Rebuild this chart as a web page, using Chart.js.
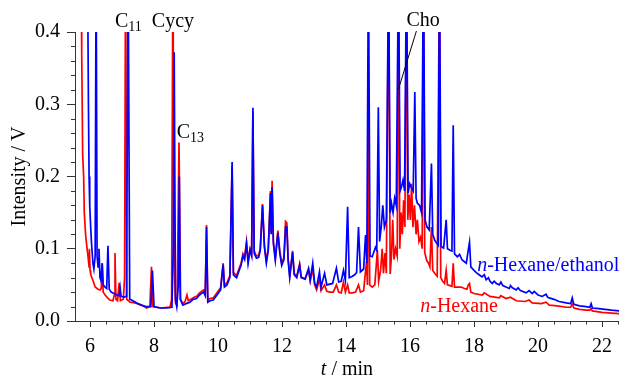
<!DOCTYPE html>
<html>
<head>
<meta charset="utf-8">
<script src="https://cdn.jsdelivr.net/npm/chart.js@4.4.1/dist/chart.umd.min.js"></script>
<style>
  html, body { margin: 0; padding: 0; background: #fff; }
  canvas { display: block; }
</style>
</head>
<body>
<canvas id="chromChart" width="620" height="378"></canvas>
<script>
// retention time (min), signal (V)
const hexaneEthanol = [
  [5.92, 0.5], [5.95, 0.3], [5.97, 0.2], [5.99, 0.16], [6.02, 0.13], [6.05, 0.105], [6.09, 0.08], [6.12, 0.072],
  [6.16, 0.09], [6.19, 0.5], [6.22, 0.09], [6.25, 0.075], [6.28, 0.1], [6.31, 0.06], [6.34, 0.056], [6.38, 0.08],
  [6.41, 0.05], [6.47, 0.047], [6.52, 0.045], [6.56, 0.104], [6.6, 0.044], [6.66, 0.04], [6.75, 0.038], [6.85, 0.036],
  [6.91, 0.035], [6.94, 0.046], [6.97, 0.034], [7.06, 0.033], [7.14, 0.034], [7.19, 0.5], [7.24, 0.03], [7.3, 0.029],
  [7.46, 0.025], [7.6, 0.022], [7.75, 0.02], [7.9, 0.02], [7.95, 0.07], [8.0, 0.02], [8.2, 0.018], [8.4, 0.018],
  [8.56, 0.019], [8.6, 0.1], [8.63, 0.372], [8.67, 0.03], [8.71, 0.02], [8.76, 0.05], [8.79, 0.2], [8.82, 0.03],
  [8.9, 0.022], [9.0, 0.024], [9.12, 0.026], [9.22, 0.03], [9.33, 0.031], [9.4, 0.035], [9.48, 0.038], [9.55, 0.04],
  [9.6, 0.035], [9.64, 0.13], [9.68, 0.026], [9.75, 0.028], [9.85, 0.029], [9.95, 0.035], [10.0, 0.038], [10.08, 0.043],
  [10.16, 0.078], [10.2, 0.047], [10.28, 0.05], [10.37, 0.06], [10.44, 0.22], [10.48, 0.064], [10.58, 0.06], [10.66, 0.07],
  [10.72, 0.077], [10.78, 0.09], [10.83, 0.085], [10.89, 0.107], [10.94, 0.08], [11.0, 0.098], [11.05, 0.09], [11.09, 0.295],
  [11.13, 0.094], [11.2, 0.087], [11.27, 0.088], [11.32, 0.098], [11.39, 0.16], [11.45, 0.102], [11.51, 0.08], [11.57, 0.098],
  [11.64, 0.177], [11.66, 0.12], [11.69, 0.185], [11.73, 0.107], [11.79, 0.084], [11.87, 0.122], [11.93, 0.094], [11.99, 0.077],
  [12.06, 0.085], [12.11, 0.13], [12.15, 0.13], [12.19, 0.084], [12.24, 0.06], [12.33, 0.095], [12.38, 0.064], [12.46, 0.06],
  [12.55, 0.077], [12.6, 0.06], [12.72, 0.058], [12.83, 0.073], [12.88, 0.057], [12.96, 0.08], [13.02, 0.052], [13.08, 0.047],
  [13.17, 0.068], [13.22, 0.047], [13.33, 0.066], [13.4, 0.05], [13.58, 0.052], [13.7, 0.073], [13.77, 0.054], [13.85, 0.055],
  [13.92, 0.07], [13.98, 0.056], [14.05, 0.158], [14.1, 0.06], [14.2, 0.062], [14.27, 0.064], [14.33, 0.067], [14.39, 0.13],
  [14.45, 0.068], [14.55, 0.072], [14.61, 0.119], [14.65, 0.08], [14.7, 0.5], [14.75, 0.09], [14.82, 0.089], [14.92, 0.102],
  [14.96, 0.098], [15.01, 0.296], [15.05, 0.11], [15.1, 0.13], [15.15, 0.16], [15.2, 0.13], [15.26, 0.14], [15.33, 0.5],
  [15.38, 0.15], [15.42, 0.163], [15.47, 0.15], [15.52, 0.17], [15.57, 0.16], [15.64, 0.5], [15.69, 0.18], [15.73, 0.185],
  [15.78, 0.195], [15.83, 0.18], [15.89, 0.5], [15.94, 0.177], [15.99, 0.19], [16.04, 0.185], [16.1, 0.18], [16.15, 0.317],
  [16.19, 0.17], [16.23, 0.163], [16.3, 0.16], [16.36, 0.15], [16.42, 0.5], [16.47, 0.14], [16.53, 0.13], [16.6, 0.126],
  [16.67, 0.218], [16.71, 0.12], [16.77, 0.112], [16.83, 0.108], [16.88, 0.105], [16.92, 0.5], [16.97, 0.103], [17.05, 0.101],
  [17.13, 0.14], [17.17, 0.1], [17.25, 0.098], [17.31, 0.097], [17.35, 0.271], [17.39, 0.093], [17.48, 0.089], [17.55, 0.092],
  [17.62, 0.085], [17.7, 0.082], [17.76, 0.08], [17.82, 0.098], [17.86, 0.109], [17.9, 0.075], [18.0, 0.07], [18.1, 0.066],
  [18.16, 0.064], [18.25, 0.061], [18.32, 0.064], [18.38, 0.057], [18.45, 0.06], [18.5, 0.055], [18.57, 0.052], [18.63, 0.055],
  [18.7, 0.052], [18.79, 0.05], [18.84, 0.054], [18.9, 0.049], [19.0, 0.047], [19.1, 0.045], [19.14, 0.049], [19.2, 0.046],
  [19.32, 0.043], [19.38, 0.046], [19.45, 0.042], [19.63, 0.039], [19.72, 0.042], [19.82, 0.038], [19.88, 0.041], [20.0, 0.036],
  [20.13, 0.034], [20.25, 0.037], [20.3, 0.033], [20.35, 0.032], [20.5, 0.03], [20.66, 0.027], [20.88, 0.025], [21.02, 0.024],
  [21.07, 0.032], [21.12, 0.023], [21.3, 0.021], [21.5, 0.02], [21.62, 0.019], [21.66, 0.024], [21.7, 0.018], [21.9, 0.017],
  [22.1, 0.016], [22.3, 0.015], [22.55, 0.014]
];

const hexane = [
  [5.68, 0.5], [5.72, 0.5], [5.74, 0.37], [5.77, 0.23], [5.8, 0.2], [5.82, 0.15], [5.86, 0.12], [5.9, 0.103],
  [5.94, 0.088], [5.97, 0.075], [5.98, 0.1], [6.0, 0.07], [6.02, 0.065], [6.05, 0.061], [6.1, 0.055], [6.16, 0.047],
  [6.25, 0.044], [6.31, 0.043], [6.35, 0.045], [6.38, 0.08], [6.41, 0.04], [6.47, 0.036], [6.55, 0.032], [6.62, 0.029],
  [6.72, 0.028], [6.75, 0.035], [6.78, 0.094], [6.81, 0.03], [6.86, 0.028], [6.91, 0.053], [6.95, 0.028], [7.04, 0.03],
  [7.08, 0.06], [7.11, 0.5], [7.15, 0.03], [7.25, 0.026], [7.4, 0.025], [7.61, 0.022], [7.77, 0.018], [7.87, 0.02],
  [7.92, 0.075], [7.96, 0.02], [8.05, 0.019], [8.24, 0.018], [8.4, 0.019], [8.5, 0.019], [8.55, 0.03], [8.59, 0.5],
  [8.63, 0.08], [8.67, 0.025], [8.72, 0.022], [8.78, 0.247], [8.83, 0.03], [8.9, 0.024], [8.97, 0.027], [9.03, 0.036],
  [9.07, 0.028], [9.15, 0.03], [9.25, 0.033], [9.33, 0.034], [9.4, 0.038], [9.48, 0.041], [9.55, 0.043], [9.6, 0.038],
  [9.64, 0.133], [9.68, 0.029], [9.75, 0.031], [9.85, 0.032], [9.95, 0.038], [10.0, 0.041], [10.08, 0.046], [10.16, 0.08],
  [10.2, 0.05], [10.28, 0.053], [10.37, 0.063], [10.44, 0.215], [10.48, 0.067], [10.58, 0.063], [10.66, 0.073], [10.72, 0.08],
  [10.78, 0.093], [10.83, 0.088], [10.89, 0.11], [10.94, 0.083], [11.0, 0.1], [11.05, 0.093], [11.09, 0.29], [11.13, 0.097],
  [11.2, 0.09], [11.27, 0.091], [11.32, 0.1], [11.39, 0.162], [11.45, 0.105], [11.51, 0.083], [11.57, 0.1], [11.64, 0.18],
  [11.66, 0.123], [11.69, 0.194], [11.73, 0.11], [11.79, 0.087], [11.87, 0.125], [11.93, 0.097], [11.99, 0.08], [12.06, 0.088],
  [12.11, 0.138], [12.15, 0.136], [12.19, 0.087], [12.24, 0.063], [12.33, 0.097], [12.38, 0.066], [12.46, 0.062], [12.55, 0.079],
  [12.6, 0.061], [12.72, 0.058], [12.83, 0.07], [12.88, 0.055], [12.96, 0.072], [13.02, 0.05], [13.08, 0.043], [13.17, 0.058],
  [13.22, 0.042], [13.33, 0.05], [13.4, 0.041], [13.5, 0.04], [13.6, 0.04], [13.7, 0.05], [13.77, 0.04], [13.85, 0.039],
  [13.92, 0.054], [13.98, 0.04], [14.05, 0.05], [14.1, 0.039], [14.2, 0.039], [14.3, 0.04], [14.39, 0.05], [14.45, 0.04],
  [14.55, 0.042], [14.64, 0.082], [14.67, 0.05], [14.7, 0.3], [14.74, 0.05], [14.82, 0.047], [14.9, 0.05], [14.98, 0.098],
  [15.02, 0.055], [15.08, 0.07], [15.13, 0.1], [15.17, 0.066], [15.22, 0.094], [15.26, 0.066], [15.33, 0.5], [15.38, 0.065],
  [15.42, 0.09], [15.46, 0.14], [15.5, 0.085], [15.55, 0.1], [15.6, 0.09], [15.64, 0.5], [15.68, 0.1], [15.72, 0.15],
  [15.76, 0.12], [15.8, 0.167], [15.84, 0.13], [15.89, 0.5], [15.93, 0.14], [15.97, 0.175], [16.01, 0.14], [16.05, 0.19],
  [16.09, 0.13], [16.14, 0.16], [16.19, 0.12], [16.23, 0.14], [16.28, 0.11], [16.33, 0.116], [16.38, 0.1], [16.42, 0.5],
  [16.46, 0.095], [16.52, 0.084], [16.58, 0.08], [16.62, 0.075], [16.67, 0.13], [16.71, 0.07], [16.77, 0.066], [16.85, 0.062],
  [16.92, 0.5], [16.96, 0.06], [17.02, 0.055], [17.08, 0.052], [17.13, 0.07], [17.17, 0.05], [17.25, 0.049], [17.31, 0.048],
  [17.35, 0.08], [17.39, 0.047], [17.5, 0.047], [17.6, 0.047], [17.7, 0.045], [17.78, 0.044], [17.82, 0.05], [17.86, 0.052],
  [17.9, 0.04], [18.0, 0.038], [18.26, 0.036], [18.32, 0.039], [18.5, 0.034], [18.79, 0.032], [18.84, 0.035], [19.0, 0.031],
  [19.14, 0.033], [19.32, 0.028], [19.6, 0.027], [19.72, 0.029], [19.82, 0.025], [20.1, 0.024], [20.25, 0.026], [20.35, 0.022],
  [20.6, 0.021], [20.88, 0.019], [21.02, 0.019], [21.07, 0.024], [21.12, 0.018], [21.3, 0.016], [21.5, 0.015], [21.62, 0.015],
  [21.66, 0.017], [21.7, 0.014], [22.0, 0.012], [22.3, 0.011], [22.55, 0.01]
];

const xRange = [5.53, 22.53];
const yRange = [0, 0.4];
const xStep = 2, xMinorStep = 0.5;
const yStep = 0.1, yMinorStep = 0.02;

// peak names and trace labels, anchored in data units
const peakLabels = [
  { parts: [{ text: 'C' }, { text: '11', sub: true }], t: 6.78, v: 0.4069, color: '#000' },
  { parts: [{ text: 'Cycy' }], t: 7.93, v: 0.4076, color: '#000' },
  { parts: [{ text: 'C' }, { text: '13', sub: true }], t: 8.71, v: 0.253, color: '#000' },
  { parts: [{ text: 'Cho' }], t: 15.89, v: 0.408, color: '#000' },
  { parts: [{ text: 'n', italic: true }, { text: '-Hexane/ethanol' }], t: 18.1, v: 0.069, color: '#0000ff' },
  { parts: [{ text: 'n', italic: true }, { text: '-Hexane' }], t: 16.32, v: 0.0124, color: '#ff0000' }
];
const choLeader = [[16.2, 0.4014], [15.64, 0.321]];

const FONT = '"Liberation Serif", "Times New Roman", serif';

function drawParts(ctx, parts, x, y, color) {
  ctx.fillStyle = color;
  ctx.textBaseline = 'alphabetic';
  ctx.textAlign = 'left';
  parts.forEach(p => {
    ctx.font = (p.italic ? 'italic ' : '') + (p.sub ? '14px ' : '20px ') + FONT;
    ctx.fillText(p.text, x, p.sub ? y + 4 : y);
    x += ctx.measureText(p.text).width;
  });
}

function partsWidth(ctx, parts) {
  let w = 0;
  parts.forEach(p => {
    ctx.font = (p.italic ? 'italic ' : '') + (p.sub ? '14px ' : '20px ') + FONT;
    w += ctx.measureText(p.text).width;
  });
  return w;
}

const decorations = {
  id: 'decorations',
  afterDraw(chart) {
    const { ctx, chartArea, scales: { x, y } } = chart;
    ctx.save();
    // minor ticks
    ctx.strokeStyle = '#333';
    ctx.lineWidth = 1;
    ctx.beginPath();
    for (let v = 6; v <= xRange[1]; v += xMinorStep) {
      if (Math.abs(v / xStep - Math.round(v / xStep)) < 1e-6) continue;
      const px = Math.round(x.getPixelForValue(v)) + 0.5;
      ctx.moveTo(px, chartArea.bottom);
      ctx.lineTo(px, chartArea.bottom + 3.5);
    }
    for (let v = yRange[0]; v <= yRange[1] + 1e-9; v += yMinorStep) {
      if (Math.abs(v / yStep - Math.round(v / yStep)) < 1e-6) continue;
      const py = Math.round(y.getPixelForValue(v)) + 0.5;
      ctx.moveTo(chartArea.left, py);
      ctx.lineTo(chartArea.left - 4, py);
    }
    ctx.stroke();

    // axis titles
    ctx.font = '20px ' + FONT;
    ctx.fillStyle = '#000';
    ctx.save();
    ctx.translate(25, (chartArea.top + chartArea.bottom) / 2);
    ctx.rotate(-Math.PI / 2);
    ctx.textAlign = 'center';
    ctx.textBaseline = 'alphabetic';
    ctx.fillText('Intensity / V', 0, 0);
    ctx.restore();

    const xTitle = [{ text: 't', italic: true }, { text: ' / min' }];
    const xw = partsWidth(ctx, xTitle);
    drawParts(ctx, xTitle, (chartArea.left + chartArea.right) / 2 - xw / 2, 375, '#000');

    // peak labels
    peakLabels.forEach(l => {
      drawParts(ctx, l.parts, x.getPixelForValue(l.t), y.getPixelForValue(l.v), l.color);
    });
    ctx.strokeStyle = '#000';
    ctx.lineWidth = 1;
    ctx.beginPath();
    ctx.moveTo(x.getPixelForValue(choLeader[0][0]), y.getPixelForValue(choLeader[0][1]));
    ctx.lineTo(x.getPixelForValue(choLeader[1][0]), y.getPixelForValue(choLeader[1][1]));
    ctx.stroke();
    ctx.restore();
  }
};

const toXY = arr => arr.map(([t, v]) => ({ x: t, y: v }));

new Chart(document.getElementById('chromChart'), {
  type: 'line',
  data: {
    datasets: [
      {
        label: 'n-Hexane/ethanol',
        data: toXY(hexaneEthanol),
        borderColor: '#0000ff',
        borderWidth: 1.7,
        pointRadius: 0,
        tension: 0,
        fill: false
      },
      {
        label: 'n-Hexane',
        data: toXY(hexane),
        borderColor: '#ff0000',
        borderWidth: 1.7,
        pointRadius: 0,
        tension: 0,
        fill: false
      }
    ]
  },
  options: {
    responsive: false,
    animation: false,
    devicePixelRatio: 1,
    layout: { padding: { top: 32, right: 0, left: 0, bottom: 0 } },
    plugins: { legend: { display: false }, tooltip: { enabled: false } },
    scales: {
      x: {
        type: 'linear',
        min: xRange[0],
        max: xRange[1],
        afterFit: s => { s.height = 57; },
        ticks: {
          stepSize: xStep,
          includeBounds: false,
          autoSkip: false,
          maxRotation: 0,
          padding: 8,
          color: '#000',
          font: { family: FONT, size: 20 }
        },
        grid: { drawOnChartArea: false, tickLength: 6, color: '#333' },
        border: { color: '#333', width: 1 }
      },
      y: {
        min: yRange[0],
        max: yRange[1],
        afterFit: s => { s.width = 75; },
        ticks: {
          stepSize: yStep,
          padding: 7,
          color: '#000',
          font: { family: FONT, size: 20 },
          callback: v => Number(v).toFixed(1)
        },
        grid: { drawOnChartArea: false, tickLength: 8, color: '#333' },
        border: { color: '#333', width: 1 }
      }
    }
  },
  plugins: [decorations]
});
</script>
</body>
</html>
